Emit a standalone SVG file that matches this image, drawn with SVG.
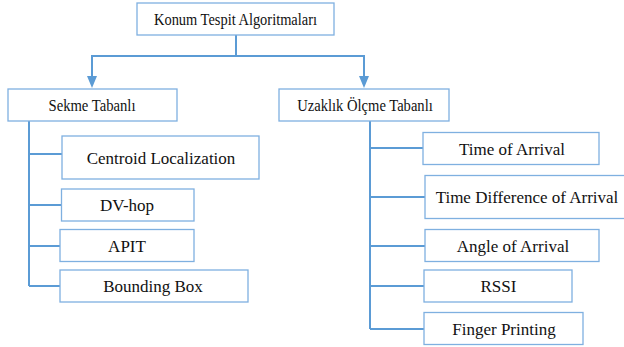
<svg xmlns="http://www.w3.org/2000/svg" width="624" height="347" viewBox="0 0 624 347">
<style>
.box{fill:#fff;stroke:#7fb0e0;stroke-width:1.3}
.t{font-family:"Liberation Serif","Times New Roman",serif;font-size:17px;fill:#111;text-anchor:middle}
.h{font-size:16px}
.c{fill:none;stroke:#5b9bd5;stroke-width:2}
.a{fill:#5b9bd5}
</style>
<g id="connectors">
<path class="c" d="M236,35 V56 H92 V78"/>
<path class="c" d="M236,56 H364 V78"/>
<polygon class="a" points="87,76 97,76 92,88"/>
<polygon class="a" points="359,76 369,76 364,88"/>
<path class="c" d="M29,121 V286"/>
<path class="c" d="M29,154 H62 M29,205 H61 M29,246 H60 M29,286 H60"/>
<path class="c" d="M370,121 V329"/>
<path class="c" d="M370,148 H423 M370,197 H425 M370,246 H425 M370,286 H424 M370,329 H424"/>
</g>
<g id="root"><rect class="box" x="137" y="3" width="197" height="32"/><text class="t h" x="235.5" y="24.5" textLength="163" lengthAdjust="spacingAndGlyphs">Konum Tespit Algoritmaları</text></g>
<g id="sekme"><rect class="box" x="8" y="89" width="169" height="32"/><text class="t h" x="92" y="111" textLength="87" lengthAdjust="spacingAndGlyphs">Sekme Tabanlı</text></g>
<g id="uzaklik"><rect class="box" x="279" y="89" width="170" height="32"/><text class="t h" x="365" y="111" textLength="135.5" lengthAdjust="spacingAndGlyphs">Uzaklık Ölçme Tabanlı</text></g>
<g id="centroid"><rect class="box" x="62" y="136" width="197" height="43"/><text class="t" x="161" y="163.5">Centroid Localization</text></g>
<g id="dvhop"><rect class="box" x="61.5" y="189" width="132.5" height="32"/><text class="t" x="127" y="211">DV-hop</text></g>
<g id="apit"><rect class="box" x="60" y="229.5" width="134" height="32"/><text class="t" x="127" y="251.5">APIT</text></g>
<g id="bbox"><rect class="box" x="60" y="270" width="188" height="32"/><text class="t" x="153" y="292">Bounding Box</text></g>
<g id="toa"><rect class="box" x="423" y="132.5" width="176" height="32"/><text class="t" x="512" y="154.5">Time of Arrival</text></g>
<g id="tdoa"><rect class="box" x="425" y="175.5" width="205" height="43"/><text class="t" x="527" y="203">Time Difference of Arrival</text></g>
<g id="aoa"><rect class="box" x="425" y="229.5" width="174" height="32"/><text class="t" x="513" y="251.5">Angle of Arrival</text></g>
<g id="rssi"><rect class="box" x="424" y="270" width="148" height="32"/><text class="t" x="498.5" y="292">RSSI</text></g>
<g id="finger"><rect class="box" x="424" y="312.5" width="159" height="32"/><text class="t" x="504" y="334.5">Finger Printing</text></g>
</svg>
